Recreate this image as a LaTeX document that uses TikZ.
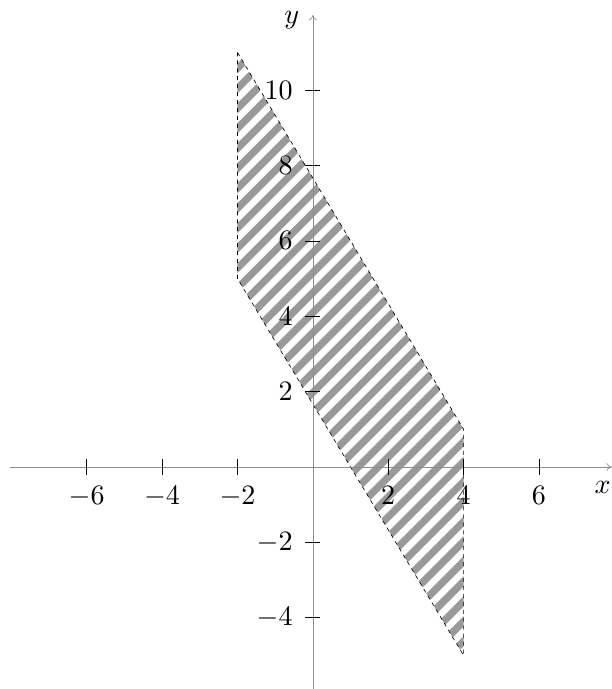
\documentclass[tikz,border=0pt]{standalone}
\usepackage{graphicx}
\usetikzlibrary{arrows.meta}
\tikzset{
  axisline/.style={draw=black!45, line width=0.5pt, -{To[length=4pt,width=6pt]}},
  tickmark/.style={draw=black, line width=0.5pt},
  ticklab/.style={inner sep=0pt},
  hatchline/.style={draw=black!40, line width=0.19cm},
  border/.style={draw=black, line width=0.5pt, dashed}
}
\newcommand{\biglab}[1]{\scalebox{2.12}{#1}}
\begin{document}
\begin{tikzpicture}
\useasboundingbox (-8.30,-5.89) rectangle (7.93,12.39);
% region
\coordinate (A) at (-2,11);
\coordinate (B) at (-2,5);
\coordinate (C) at (4,-5);
\coordinate (D) at (4,1);
\begin{scope}
\clip (A) -- (B) -- (C) -- (D) -- cycle;
\foreach \k in {-26,...,18} {
  \pgfmathsetmacro{\c}{0.145+\k*0.53}
  \draw[hatchline] (-3,{-3-\c}) -- (5,{5-\c});
}
\end{scope}
\draw[border] (A) -- (B) -- (C) -- (D) -- cycle;
% axes
\coordinate (xs) at (-8.04,0);
\coordinate (xe) at (7.93,0);
\coordinate (ys) at (0,-5.89);
\coordinate (ye) at (0,11.99);
\draw[axisline] (xs) -- (xe);
\draw[axisline] (ys) -- (ye);
\node[ticklab] (xlab) at (7.69,-0.53) {\biglab{$x$}};
\node[ticklab] (ylab) at (-0.56,11.86) {\biglab{$y$}};
% x ticks
\foreach \v in {-6,-4,-2,2,4,6} {
  \draw[tickmark] (\v,-0.2) -- (\v,0.2);
  \node[ticklab, anchor=north] (xt\v) at (\v,-0.52) {\biglab{$\v$}};
}
% y ticks
\foreach \v in {-4,-2,2,4,6,8,10} {
  \draw[tickmark] (-0.2,\v) -- (0.2,\v);
  \node[ticklab, anchor=east] (yt\v) at (-0.53,\v) {\biglab{$\v$}};
}
\end{tikzpicture}
\end{document}
